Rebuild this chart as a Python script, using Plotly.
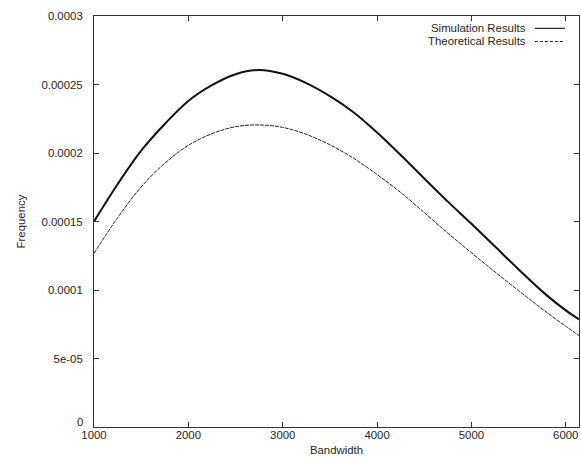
import plotly.graph_objects as go

bandwidth = [1000, 1250, 1500, 1750, 2000, 2250, 2500, 2750, 3000, 3250, 3500, 3750,
             4000, 4250, 4500, 4750, 5000, 5250, 5500, 5750, 6000, 6140]
simulation = [0.0001500, 0.0001772, 0.0002017, 0.0002212, 0.0002380, 0.0002495, 0.0002575,
              0.0002606, 0.0002578, 0.0002510, 0.0002415, 0.0002298, 0.0002150, 0.0001986,
              0.0001814, 0.0001645, 0.0001483, 0.0001317, 0.0001150, 0.0000990, 0.0000851,
              0.0000786]
theoretical = [0.0001268, 0.0001527, 0.0001752, 0.0001925, 0.0002056, 0.0002141, 0.0002192,
               0.0002205, 0.0002187, 0.0002136, 0.0002060, 0.0001962, 0.0001843, 0.0001712,
               0.0001565, 0.0001415, 0.0001272, 0.0001132, 0.0000995, 0.0000862, 0.0000735,
               0.0000668]

y_tickvals = [0, 0.00005, 0.0001, 0.00015, 0.0002, 0.00025, 0.0003]
y_ticktext = ["0", "5e-05", "0.0001", "0.00015", "0.0002", "0.00025", "0.0003"]
x_tickvals = [1000, 2000, 3000, 4000, 5000, 6000]
x_ticktext = ["1000", "2000", "3000", "4000", "5000", "6000"]
series_names = ["Simulation Results", "Theoretical Results"]

FONT = "Liberation Sans, Arial, sans-serif"
FS = 11.4
TXT = "#262626"

fig = go.Figure()
fig.add_trace(go.Scatter(x=bandwidth, y=simulation, mode="lines", name=series_names[0],
                         line=dict(color="#111111", width=2, shape="spline"), showlegend=False))
fig.add_trace(go.Scatter(x=bandwidth, y=theoretical, mode="lines", name=series_names[1],
                         line=dict(color="#222222", width=1, shape="spline", dash="4px,1px"),
                         showlegend=False))

# gnuplot-style legend: text right-aligned, sample line on the right
legend_rows = [(0.970, "solid", 1.2), (0.938, "3px,2px", 1)]
for (yy, dash, w), name in zip(legend_rows, series_names):
    fig.add_annotation(text=name, xref="paper", yref="paper", x=0.894, y=yy,
                       xanchor="right", yanchor="middle", showarrow=False,
                       font=dict(family=FONT, size=FS, color=TXT))
    fig.add_shape(type="line", xref="paper", yref="paper", x0=0.909, x1=0.971, y0=yy, y1=yy,
                  line=dict(color="#222222", width=w, dash=dash))

# the "0" label of the y axis sits slightly above the axis corner, as in gnuplot
y_labels_shown = [""] + y_ticktext[1:]
fig.add_annotation(text=y_ticktext[0], xref="paper", yref="y", x=0, y=y_tickvals[0],
                   xanchor="right", yanchor="middle", xshift=-9, yshift=5, showarrow=False,
                   font=dict(family=FONT, size=FS, color=TXT))

axis_common = dict(showline=True, linecolor="#333333", linewidth=1, mirror="allticks",
                   ticks="inside", ticklen=5, tickcolor="#333333", showgrid=False,
                   zeroline=False, tickfont=dict(family=FONT, size=FS, color=TXT))

fig.update_xaxes(range=[1000, 6140], tickvals=x_tickvals, ticktext=x_ticktext,
                 title=dict(text="Bandwidth", font=dict(family=FONT, size=FS, color=TXT),
                            standoff=6),
                 ticklabelstandoff=-3, **axis_common)
fig.update_yaxes(range=[0, 0.0003], tickvals=y_tickvals, ticktext=y_labels_shown,
                 title=dict(text="Frequency", font=dict(family=FONT, size=FS, color=TXT),
                            standoff=13),
                 ticklabelstandoff=8, **axis_common)

fig.update_layout(width=581, height=465, margin=dict(l=94, r=2, t=16, b=38),
                  paper_bgcolor="white", plot_bgcolor="white")

fig.write_html("out.html")
